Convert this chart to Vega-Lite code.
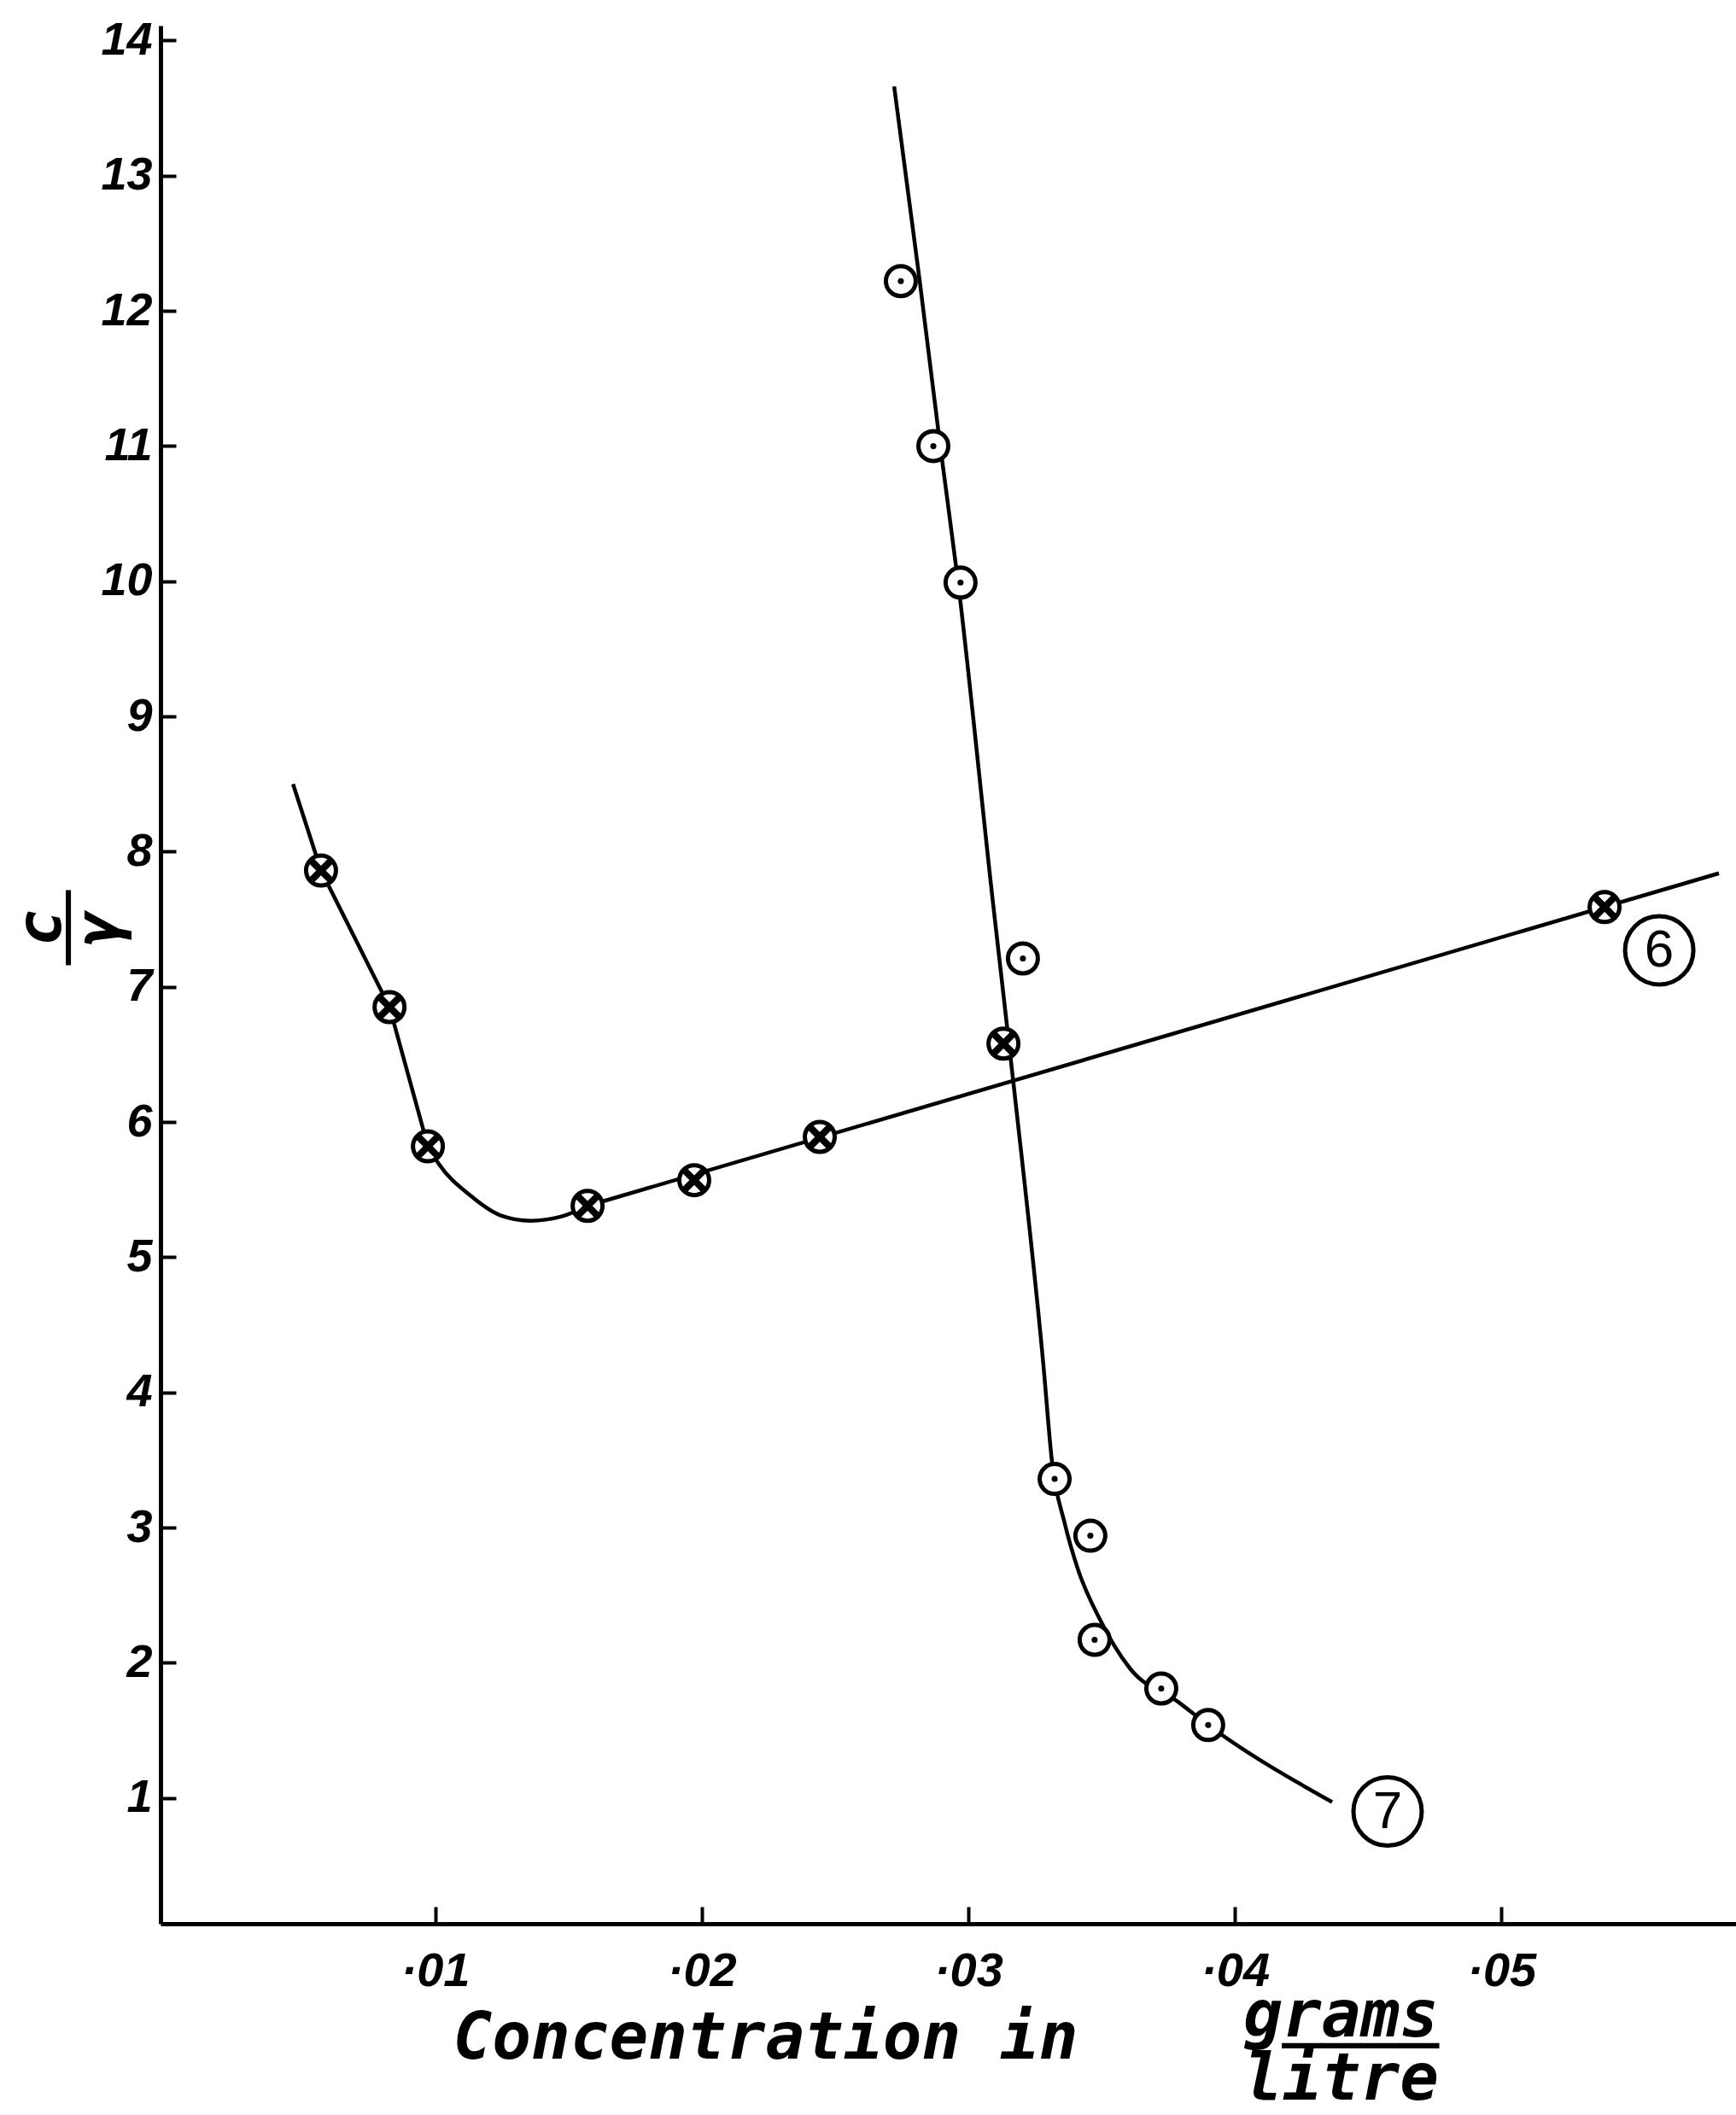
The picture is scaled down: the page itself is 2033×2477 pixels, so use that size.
{
  "$schema": "https://vega.github.io/schema/vega-lite/v6.json",
  "width": 1845,
  "height": 2223,
  "autosize": {"type": "none"},
  "padding": {"left": 188, "top": 30, "right": 0, "bottom": 224},
  "background": "white",
  "config": {"view": {"stroke": null}},
  "title": {
    "text": ["grams", "────", "litre"],
    "orient": "bottom",
    "anchor": "end",
    "frame": "group",
    "offset": 0,
    "dx": -348,
    "dy": -40,
    "align": "right",
    "baseline": "alphabetic",
    "font": "DejaVu Sans Mono",
    "fontStyle": "italic",
    "fontWeight": "bold",
    "fontSize": 76,
    "lineHeight": 37,
    "color": "black"
  },
  "datasets": {
    "curves": [
      {"part": "6a", "interp": "linear", "order": 1, "conc": 0.00467, "cg": 8.50},
      {"part": "6a", "interp": "linear", "order": 2, "conc": 0.00572, "cg": 7.86},
      {"part": "6a", "interp": "linear", "order": 3, "conc": 0.00829, "cg": 6.85},
      {"part": "6a", "interp": "linear", "order": 4, "conc": 0.00973, "cg": 5.82},
      {"part": "6b", "interp": "monotone", "order": 1, "conc": 0.00973, "cg": 5.82},
      {"part": "6b", "interp": "monotone", "order": 2, "conc": 0.01014, "cg": 5.69},
      {"part": "6b", "interp": "monotone", "order": 3, "conc": 0.0113, "cg": 5.46},
      {"part": "6b", "interp": "monotone", "order": 4, "conc": 0.01245, "cg": 5.31},
      {"part": "6b", "interp": "monotone", "order": 5, "conc": 0.01357, "cg": 5.27},
      {"part": "6b", "interp": "monotone", "order": 6, "conc": 0.01472, "cg": 5.30},
      {"part": "6b", "interp": "monotone", "order": 7, "conc": 0.01572, "cg": 5.38},
      {"part": "6c", "interp": "linear", "order": 1, "conc": 0.01572, "cg": 5.38},
      {"part": "6c", "interp": "linear", "order": 2, "conc": 0.05816, "cg": 7.84},
      {"part": "7", "interp": "monotone", "order": 1, "conc": 0.02722, "cg": 13.66},
      {"part": "7", "interp": "monotone", "order": 2, "conc": 0.02818, "cg": 12.22},
      {"part": "7", "interp": "monotone", "order": 3, "conc": 0.02895, "cg": 11.00},
      {"part": "7", "interp": "monotone", "order": 4, "conc": 0.02962, "cg": 9.99},
      {"part": "7", "interp": "monotone", "order": 5, "conc": 0.0309, "cg": 7.67},
      {"part": "7", "interp": "monotone", "order": 6, "conc": 0.0317, "cg": 6.28},
      {"part": "7", "interp": "monotone", "order": 7, "conc": 0.03282, "cg": 4.20},
      {"part": "7", "interp": "monotone", "order": 8, "conc": 0.03314, "cg": 3.49},
      {"part": "7", "interp": "monotone", "order": 9, "conc": 0.03362, "cg": 3.03},
      {"part": "7", "interp": "monotone", "order": 10, "conc": 0.0341, "cg": 2.70},
      {"part": "7", "interp": "monotone", "order": 11, "conc": 0.03494, "cg": 2.32},
      {"part": "7", "interp": "monotone", "order": 12, "conc": 0.03606, "cg": 1.96},
      {"part": "7", "interp": "monotone", "order": 13, "conc": 0.03788, "cg": 1.71},
      {"part": "7", "interp": "monotone", "order": 14, "conc": 0.039, "cg": 1.54},
      {"part": "7", "interp": "monotone", "order": 15, "conc": 0.04365, "cg": 0.97}
    ],
    "points": [
      {"series": "6", "symbol": "cross", "conc": 0.00572, "cg": 7.86},
      {"series": "6", "symbol": "cross", "conc": 0.00829, "cg": 6.85},
      {"series": "6", "symbol": "cross", "conc": 0.00973, "cg": 5.82},
      {"series": "6", "symbol": "cross", "conc": 0.01572, "cg": 5.38},
      {"series": "6", "symbol": "cross", "conc": 0.01972, "cg": 5.57},
      {"series": "6", "symbol": "cross", "conc": 0.02443, "cg": 5.89},
      {"series": "6", "symbol": "cross", "conc": 0.05387, "cg": 7.59},
      {"series": "7", "symbol": "dot", "conc": 0.02747, "cg": 12.22},
      {"series": "7", "symbol": "dot", "conc": 0.02869, "cg": 11.00},
      {"series": "7", "symbol": "dot", "conc": 0.02971, "cg": 9.99},
      {"series": "7", "symbol": "dot", "conc": 0.03205, "cg": 7.21},
      {"series": "7", "symbol": "cross", "conc": 0.03132, "cg": 6.58},
      {"series": "7", "symbol": "dot", "conc": 0.03324, "cg": 3.36},
      {"series": "7", "symbol": "dot", "conc": 0.03458, "cg": 2.94},
      {"series": "7", "symbol": "dot", "conc": 0.03474, "cg": 2.17},
      {"series": "7", "symbol": "dot", "conc": 0.03724, "cg": 1.81},
      {"series": "7", "symbol": "dot", "conc": 0.039, "cg": 1.54}
    ],
    "labels": [
      {"label": "6", "conc": 0.05592, "cg": 7.27},
      {"label": "7", "conc": 0.04573, "cg": 0.90}
    ]
  },
  "encoding": {
    "x": {
      "field": "conc",
      "type": "quantitative",
      "scale": {"domain": [-0.0003, 0.0588], "nice": false, "zero": false},
      "axis": {
        "values": [0.01, 0.02, 0.03, 0.04, 0.05],
        "labelExpr": "replace(format(datum.value, '.2f'), '0.', '·')",
        "grid": false,
        "domainColor": "black",
        "domainWidth": 5,
        "tickColor": "black",
        "tickWidth": 4,
        "tickSize": -20,
        "labelFont": "Liberation Sans",
        "labelFontStyle": "italic",
        "labelFontWeight": "bold",
        "labelFontSize": 56,
        "labelColor": "black",
        "labelPadding": 48,
        "labelFlush": false,
        "title": "Concentration in",
        "titleFont": "DejaVu Sans Mono",
        "titleFontStyle": "italic",
        "titleFontWeight": "bold",
        "titleFontSize": 76,
        "titleColor": "black",
        "titleAlign": "left",
        "titleX": 342,
        "titleY": 157,
        "titleBaseline": "alphabetic"
      }
    },
    "y": {
      "field": "cg",
      "type": "quantitative",
      "scale": {"domain": [0.07, 14.11], "nice": false, "zero": false},
      "axis": {
        "values": [1, 2, 3, 4, 5, 6, 7, 8, 9, 10, 11, 12, 13, 14],
        "format": "d",
        "grid": false,
        "domainColor": "black",
        "domainWidth": 5,
        "tickColor": "black",
        "tickWidth": 4,
        "tickSize": -18,
        "labelFont": "Liberation Sans",
        "labelFontStyle": "italic",
        "labelFontWeight": "bold",
        "labelFontSize": 54,
        "labelColor": "black",
        "labelPadding": 28,
        "labelFlush": false,
        "title": ["c", "──", "γ"],
        "titleFont": "DejaVu Sans Mono",
        "titleFontStyle": "italic",
        "titleFontWeight": "bold",
        "titleFontSize": 72,
        "titleColor": "black",
        "titleAngle": -90,
        "titleAlign": "center",
        "titleBaseline": "middle",
        "titleX": -140,
        "titleY": 1056,
        "titleLineHeight": 34
      }
    }
  },
  "layer": [
    {
      "data": {"name": "curves"},
      "transform": [{"filter": "datum.interp == 'linear'"}],
      "mark": {"type": "line", "interpolate": "linear", "color": "black", "strokeWidth": 4.5},
      "encoding": {
        "detail": {"field": "part"},
        "order": {"field": "order", "type": "quantitative"}
      }
    },
    {
      "data": {"name": "curves"},
      "transform": [{"filter": "datum.interp == 'monotone'"}],
      "mark": {"type": "line", "interpolate": "monotone", "color": "black", "strokeWidth": 4.5},
      "encoding": {
        "detail": {"field": "part"},
        "order": {"field": "order", "type": "quantitative"}
      }
    },
    {
      "data": {"name": "points"},
      "mark": {"type": "point", "shape": "circle", "filled": true, "fill": "white", "stroke": "black", "strokeWidth": 5, "size": 1225, "opacity": 1}
    },
    {
      "data": {"name": "points"},
      "transform": [{"filter": "datum.symbol == 'cross'"}],
      "mark": {"type": "point", "shape": "M-0.68,-0.68L0.68,0.68M-0.68,0.68L0.68,-0.68", "filled": false, "stroke": "black", "strokeWidth": 8, "size": 1225, "opacity": 1}
    },
    {
      "data": {"name": "points"},
      "transform": [{"filter": "datum.symbol == 'dot'"}],
      "mark": {"type": "point", "shape": "circle", "filled": true, "fill": "black", "size": 50, "opacity": 1}
    },
    {
      "data": {"name": "labels"},
      "mark": {"type": "point", "shape": "circle", "filled": false, "stroke": "black", "strokeWidth": 5, "size": 6400, "opacity": 1}
    },
    {
      "data": {"name": "labels"},
      "mark": {"type": "text", "font": "Liberation Sans", "fontSize": 62, "color": "black", "baseline": "middle", "align": "center"},
      "encoding": {"text": {"field": "label"}}
    }
  ]
}
